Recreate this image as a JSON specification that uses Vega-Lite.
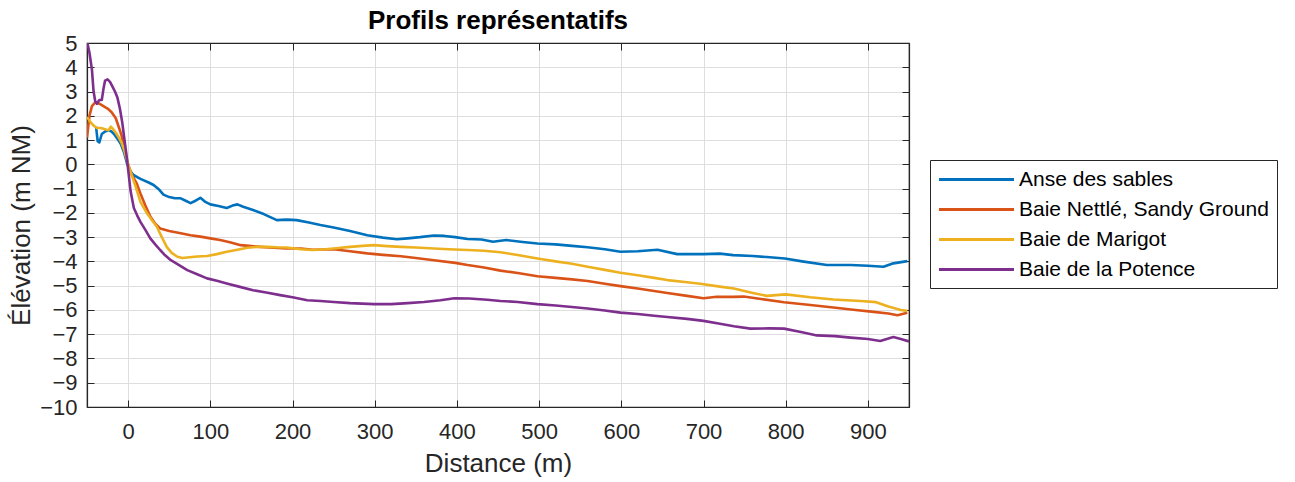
{
  "$schema": "https://vega.github.io/schema/vega-lite/v6.json",
  "width": 822,
  "height": 364,
  "autosize": "none",
  "padding": {"left": 87, "top": 43, "right": 386, "bottom": 75},
  "background": "white",
  "config": {
    "font": "Liberation Sans",
    "view": {"stroke": "#262626", "strokeWidth": 1.2},
    "axis": {
      "labelFont": "Liberation Sans",
      "titleFont": "Liberation Sans",
      "labelColor": "#262626",
      "titleColor": "#262626",
      "domainColor": "#262626",
      "tickColor": "#262626",
      "gridColor": "#dedede",
      "gridWidth": 1,
      "labelFontSize": 22,
      "titleFontSize": 26,
      "titleFontWeight": "normal"
    }
  },
  "title": {"text": "Profils représentatifs", "fontSize": 26, "fontWeight": "bold", "color": "#000000", "anchor": "middle", "offset": -2, "font": "Liberation Sans"},
  "datasets": {
    "profils": [
      {"serie": "Anse des sables", "d": -39, "z": 1.55},
      {"serie": "Anse des sables", "d": -37, "z": 0.95},
      {"serie": "Anse des sables", "d": -35, "z": 0.9},
      {"serie": "Anse des sables", "d": -32, "z": 1.25},
      {"serie": "Anse des sables", "d": -28, "z": 1.35},
      {"serie": "Anse des sables", "d": -24, "z": 1.4},
      {"serie": "Anse des sables", "d": -20, "z": 1.35},
      {"serie": "Anse des sables", "d": -16, "z": 1.2},
      {"serie": "Anse des sables", "d": -12, "z": 1.0},
      {"serie": "Anse des sables", "d": -9, "z": 0.85},
      {"serie": "Anse des sables", "d": -5, "z": 0.5},
      {"serie": "Anse des sables", "d": -1, "z": 0.0},
      {"serie": "Anse des sables", "d": 3, "z": -0.3},
      {"serie": "Anse des sables", "d": 7, "z": -0.45},
      {"serie": "Anse des sables", "d": 15, "z": -0.6},
      {"serie": "Anse des sables", "d": 25, "z": -0.75},
      {"serie": "Anse des sables", "d": 31, "z": -0.85},
      {"serie": "Anse des sables", "d": 38, "z": -1.05},
      {"serie": "Anse des sables", "d": 43, "z": -1.25},
      {"serie": "Anse des sables", "d": 50, "z": -1.35},
      {"serie": "Anse des sables", "d": 57, "z": -1.4},
      {"serie": "Anse des sables", "d": 64, "z": -1.4},
      {"serie": "Anse des sables", "d": 70, "z": -1.5},
      {"serie": "Anse des sables", "d": 76, "z": -1.6},
      {"serie": "Anse des sables", "d": 82, "z": -1.5},
      {"serie": "Anse des sables", "d": 88, "z": -1.38},
      {"serie": "Anse des sables", "d": 94, "z": -1.55},
      {"serie": "Anse des sables", "d": 100, "z": -1.65},
      {"serie": "Anse des sables", "d": 110, "z": -1.72},
      {"serie": "Anse des sables", "d": 120, "z": -1.8},
      {"serie": "Anse des sables", "d": 127, "z": -1.7},
      {"serie": "Anse des sables", "d": 133, "z": -1.65},
      {"serie": "Anse des sables", "d": 140, "z": -1.75},
      {"serie": "Anse des sables", "d": 152, "z": -1.88},
      {"serie": "Anse des sables", "d": 165, "z": -2.05},
      {"serie": "Anse des sables", "d": 181, "z": -2.3},
      {"serie": "Anse des sables", "d": 193, "z": -2.28},
      {"serie": "Anse des sables", "d": 205, "z": -2.3},
      {"serie": "Anse des sables", "d": 220, "z": -2.4},
      {"serie": "Anse des sables", "d": 234, "z": -2.5},
      {"serie": "Anse des sables", "d": 250, "z": -2.6},
      {"serie": "Anse des sables", "d": 270, "z": -2.75},
      {"serie": "Anse des sables", "d": 291, "z": -2.92},
      {"serie": "Anse des sables", "d": 310, "z": -3.02},
      {"serie": "Anse des sables", "d": 327, "z": -3.09},
      {"serie": "Anse des sables", "d": 340, "z": -3.05},
      {"serie": "Anse des sables", "d": 355, "z": -3.0},
      {"serie": "Anse des sables", "d": 372, "z": -2.93},
      {"serie": "Anse des sables", "d": 385, "z": -2.95},
      {"serie": "Anse des sables", "d": 398, "z": -3.0},
      {"serie": "Anse des sables", "d": 413, "z": -3.08},
      {"serie": "Anse des sables", "d": 430, "z": -3.1},
      {"serie": "Anse des sables", "d": 444, "z": -3.19},
      {"serie": "Anse des sables", "d": 460, "z": -3.12},
      {"serie": "Anse des sables", "d": 480, "z": -3.2},
      {"serie": "Anse des sables", "d": 498, "z": -3.26},
      {"serie": "Anse des sables", "d": 520, "z": -3.3},
      {"serie": "Anse des sables", "d": 540, "z": -3.36},
      {"serie": "Anse des sables", "d": 559, "z": -3.42},
      {"serie": "Anse des sables", "d": 580, "z": -3.5},
      {"serie": "Anse des sables", "d": 599, "z": -3.6},
      {"serie": "Anse des sables", "d": 620, "z": -3.58},
      {"serie": "Anse des sables", "d": 644, "z": -3.52},
      {"serie": "Anse des sables", "d": 668, "z": -3.7},
      {"serie": "Anse des sables", "d": 700, "z": -3.7},
      {"serie": "Anse des sables", "d": 720, "z": -3.68},
      {"serie": "Anse des sables", "d": 736, "z": -3.74},
      {"serie": "Anse des sables", "d": 760, "z": -3.78},
      {"serie": "Anse des sables", "d": 777, "z": -3.82},
      {"serie": "Anse des sables", "d": 799, "z": -3.88},
      {"serie": "Anse des sables", "d": 820, "z": -4.0},
      {"serie": "Anse des sables", "d": 850, "z": -4.15},
      {"serie": "Anse des sables", "d": 879, "z": -4.15},
      {"serie": "Anse des sables", "d": 900, "z": -4.18},
      {"serie": "Anse des sables", "d": 919, "z": -4.22},
      {"serie": "Anse des sables", "d": 931, "z": -4.08},
      {"serie": "Anse des sables", "d": 948, "z": -3.99},

      {"serie": "Baie Nettlé, Sandy Ground", "d": -50, "z": 1.1},
      {"serie": "Baie Nettlé, Sandy Ground", "d": -47, "z": 2.0},
      {"serie": "Baie Nettlé, Sandy Ground", "d": -44, "z": 2.4},
      {"serie": "Baie Nettlé, Sandy Ground", "d": -40, "z": 2.55},
      {"serie": "Baie Nettlé, Sandy Ground", "d": -35, "z": 2.5},
      {"serie": "Baie Nettlé, Sandy Ground", "d": -30, "z": 2.4},
      {"serie": "Baie Nettlé, Sandy Ground", "d": -25, "z": 2.3},
      {"serie": "Baie Nettlé, Sandy Ground", "d": -20, "z": 2.15},
      {"serie": "Baie Nettlé, Sandy Ground", "d": -15, "z": 1.9},
      {"serie": "Baie Nettlé, Sandy Ground", "d": -12, "z": 1.6},
      {"serie": "Baie Nettlé, Sandy Ground", "d": -8, "z": 1.2},
      {"serie": "Baie Nettlé, Sandy Ground", "d": -4.5, "z": 0.6},
      {"serie": "Baie Nettlé, Sandy Ground", "d": 0, "z": 0.0},
      {"serie": "Baie Nettlé, Sandy Ground", "d": 4, "z": -0.4},
      {"serie": "Baie Nettlé, Sandy Ground", "d": 10, "z": -0.75},
      {"serie": "Baie Nettlé, Sandy Ground", "d": 15, "z": -1.2},
      {"serie": "Baie Nettlé, Sandy Ground", "d": 21, "z": -1.7},
      {"serie": "Baie Nettlé, Sandy Ground", "d": 27, "z": -2.15},
      {"serie": "Baie Nettlé, Sandy Ground", "d": 33, "z": -2.45},
      {"serie": "Baie Nettlé, Sandy Ground", "d": 39, "z": -2.64},
      {"serie": "Baie Nettlé, Sandy Ground", "d": 50, "z": -2.75},
      {"serie": "Baie Nettlé, Sandy Ground", "d": 64, "z": -2.84},
      {"serie": "Baie Nettlé, Sandy Ground", "d": 76, "z": -2.92},
      {"serie": "Baie Nettlé, Sandy Ground", "d": 88, "z": -2.98},
      {"serie": "Baie Nettlé, Sandy Ground", "d": 100, "z": -3.05},
      {"serie": "Baie Nettlé, Sandy Ground", "d": 112, "z": -3.12},
      {"serie": "Baie Nettlé, Sandy Ground", "d": 125, "z": -3.22},
      {"serie": "Baie Nettlé, Sandy Ground", "d": 137, "z": -3.33},
      {"serie": "Baie Nettlé, Sandy Ground", "d": 150, "z": -3.37},
      {"serie": "Baie Nettlé, Sandy Ground", "d": 161, "z": -3.4},
      {"serie": "Baie Nettlé, Sandy Ground", "d": 177, "z": -3.44},
      {"serie": "Baie Nettlé, Sandy Ground", "d": 193, "z": -3.47},
      {"serie": "Baie Nettlé, Sandy Ground", "d": 210, "z": -3.47},
      {"serie": "Baie Nettlé, Sandy Ground", "d": 225, "z": -3.52},
      {"serie": "Baie Nettlé, Sandy Ground", "d": 250, "z": -3.5},
      {"serie": "Baie Nettlé, Sandy Ground", "d": 270, "z": -3.58},
      {"serie": "Baie Nettlé, Sandy Ground", "d": 291, "z": -3.67},
      {"serie": "Baie Nettlé, Sandy Ground", "d": 310, "z": -3.73},
      {"serie": "Baie Nettlé, Sandy Ground", "d": 332, "z": -3.79},
      {"serie": "Baie Nettlé, Sandy Ground", "d": 350, "z": -3.86},
      {"serie": "Baie Nettlé, Sandy Ground", "d": 372, "z": -3.95},
      {"serie": "Baie Nettlé, Sandy Ground", "d": 398, "z": -4.06},
      {"serie": "Baie Nettlé, Sandy Ground", "d": 413, "z": -4.15},
      {"serie": "Baie Nettlé, Sandy Ground", "d": 433, "z": -4.25},
      {"serie": "Baie Nettlé, Sandy Ground", "d": 453, "z": -4.38},
      {"serie": "Baie Nettlé, Sandy Ground", "d": 474, "z": -4.48},
      {"serie": "Baie Nettlé, Sandy Ground", "d": 498, "z": -4.61},
      {"serie": "Baie Nettlé, Sandy Ground", "d": 520, "z": -4.68},
      {"serie": "Baie Nettlé, Sandy Ground", "d": 540, "z": -4.74},
      {"serie": "Baie Nettlé, Sandy Ground", "d": 559, "z": -4.81},
      {"serie": "Baie Nettlé, Sandy Ground", "d": 580, "z": -4.92},
      {"serie": "Baie Nettlé, Sandy Ground", "d": 599, "z": -5.02},
      {"serie": "Baie Nettlé, Sandy Ground", "d": 620, "z": -5.12},
      {"serie": "Baie Nettlé, Sandy Ground", "d": 640, "z": -5.22},
      {"serie": "Baie Nettlé, Sandy Ground", "d": 656, "z": -5.3},
      {"serie": "Baie Nettlé, Sandy Ground", "d": 680, "z": -5.42},
      {"serie": "Baie Nettlé, Sandy Ground", "d": 700, "z": -5.52},
      {"serie": "Baie Nettlé, Sandy Ground", "d": 716, "z": -5.46},
      {"serie": "Baie Nettlé, Sandy Ground", "d": 736, "z": -5.46},
      {"serie": "Baie Nettlé, Sandy Ground", "d": 749, "z": -5.45},
      {"serie": "Baie Nettlé, Sandy Ground", "d": 770, "z": -5.55},
      {"serie": "Baie Nettlé, Sandy Ground", "d": 798, "z": -5.68},
      {"serie": "Baie Nettlé, Sandy Ground", "d": 830, "z": -5.8},
      {"serie": "Baie Nettlé, Sandy Ground", "d": 858, "z": -5.9},
      {"serie": "Baie Nettlé, Sandy Ground", "d": 885, "z": -6.0},
      {"serie": "Baie Nettlé, Sandy Ground", "d": 907, "z": -6.08},
      {"serie": "Baie Nettlé, Sandy Ground", "d": 925, "z": -6.15},
      {"serie": "Baie Nettlé, Sandy Ground", "d": 936, "z": -6.22},
      {"serie": "Baie Nettlé, Sandy Ground", "d": 948, "z": -6.12},

      {"serie": "Baie de Marigot", "d": -50, "z": 1.95},
      {"serie": "Baie de Marigot", "d": -46, "z": 1.75},
      {"serie": "Baie de Marigot", "d": -42, "z": 1.6},
      {"serie": "Baie de Marigot", "d": -38, "z": 1.5},
      {"serie": "Baie de Marigot", "d": -33, "z": 1.5},
      {"serie": "Baie de Marigot", "d": -28, "z": 1.45},
      {"serie": "Baie de Marigot", "d": -24, "z": 1.4},
      {"serie": "Baie de Marigot", "d": -21, "z": 1.55},
      {"serie": "Baie de Marigot", "d": -17, "z": 1.4},
      {"serie": "Baie de Marigot", "d": -13, "z": 1.2},
      {"serie": "Baie de Marigot", "d": -8, "z": 0.9},
      {"serie": "Baie de Marigot", "d": -4, "z": 0.5},
      {"serie": "Baie de Marigot", "d": 0, "z": 0.0},
      {"serie": "Baie de Marigot", "d": 3, "z": -0.31},
      {"serie": "Baie de Marigot", "d": 9, "z": -0.9},
      {"serie": "Baie de Marigot", "d": 15, "z": -1.55},
      {"serie": "Baie de Marigot", "d": 23, "z": -2.02},
      {"serie": "Baie de Marigot", "d": 29, "z": -2.3},
      {"serie": "Baie de Marigot", "d": 35, "z": -2.57},
      {"serie": "Baie de Marigot", "d": 41, "z": -3.0},
      {"serie": "Baie de Marigot", "d": 47, "z": -3.4},
      {"serie": "Baie de Marigot", "d": 53, "z": -3.65},
      {"serie": "Baie de Marigot", "d": 60, "z": -3.81},
      {"serie": "Baie de Marigot", "d": 66, "z": -3.86},
      {"serie": "Baie de Marigot", "d": 72, "z": -3.84},
      {"serie": "Baie de Marigot", "d": 84, "z": -3.8},
      {"serie": "Baie de Marigot", "d": 96, "z": -3.78},
      {"serie": "Baie de Marigot", "d": 108, "z": -3.7},
      {"serie": "Baie de Marigot", "d": 120, "z": -3.6},
      {"serie": "Baie de Marigot", "d": 133, "z": -3.52},
      {"serie": "Baie de Marigot", "d": 145, "z": -3.44},
      {"serie": "Baie de Marigot", "d": 157, "z": -3.4},
      {"serie": "Baie de Marigot", "d": 169, "z": -3.4},
      {"serie": "Baie de Marigot", "d": 181, "z": -3.42},
      {"serie": "Baie de Marigot", "d": 193, "z": -3.43},
      {"serie": "Baie de Marigot", "d": 210, "z": -3.5},
      {"serie": "Baie de Marigot", "d": 225, "z": -3.53},
      {"serie": "Baie de Marigot", "d": 240, "z": -3.5},
      {"serie": "Baie de Marigot", "d": 250, "z": -3.47},
      {"serie": "Baie de Marigot", "d": 270, "z": -3.4},
      {"serie": "Baie de Marigot", "d": 285, "z": -3.36},
      {"serie": "Baie de Marigot", "d": 299, "z": -3.33},
      {"serie": "Baie de Marigot", "d": 315, "z": -3.37},
      {"serie": "Baie de Marigot", "d": 332, "z": -3.4},
      {"serie": "Baie de Marigot", "d": 350, "z": -3.43},
      {"serie": "Baie de Marigot", "d": 372, "z": -3.47},
      {"serie": "Baie de Marigot", "d": 390, "z": -3.5},
      {"serie": "Baie de Marigot", "d": 413, "z": -3.53},
      {"serie": "Baie de Marigot", "d": 433, "z": -3.56},
      {"serie": "Baie de Marigot", "d": 453, "z": -3.62},
      {"serie": "Baie de Marigot", "d": 474, "z": -3.74},
      {"serie": "Baie de Marigot", "d": 498, "z": -3.88},
      {"serie": "Baie de Marigot", "d": 520, "z": -4.0},
      {"serie": "Baie de Marigot", "d": 540, "z": -4.1},
      {"serie": "Baie de Marigot", "d": 559, "z": -4.22},
      {"serie": "Baie de Marigot", "d": 580, "z": -4.35},
      {"serie": "Baie de Marigot", "d": 599, "z": -4.47},
      {"serie": "Baie de Marigot", "d": 620, "z": -4.57},
      {"serie": "Baie de Marigot", "d": 640, "z": -4.68},
      {"serie": "Baie de Marigot", "d": 656, "z": -4.77},
      {"serie": "Baie de Marigot", "d": 680, "z": -4.86},
      {"serie": "Baie de Marigot", "d": 696, "z": -4.92},
      {"serie": "Baie de Marigot", "d": 720, "z": -5.04},
      {"serie": "Baie de Marigot", "d": 737, "z": -5.12},
      {"serie": "Baie de Marigot", "d": 760, "z": -5.3},
      {"serie": "Baie de Marigot", "d": 777, "z": -5.42},
      {"serie": "Baie de Marigot", "d": 800, "z": -5.36},
      {"serie": "Baie de Marigot", "d": 830, "z": -5.48},
      {"serie": "Baie de Marigot", "d": 858, "z": -5.57},
      {"serie": "Baie de Marigot", "d": 891, "z": -5.63},
      {"serie": "Baie de Marigot", "d": 910, "z": -5.68},
      {"serie": "Baie de Marigot", "d": 924, "z": -5.85},
      {"serie": "Baie de Marigot", "d": 940, "z": -6.0},
      {"serie": "Baie de Marigot", "d": 948, "z": -6.04},

      {"serie": "Baie de la Potence", "d": -49.5, "z": 5.0},
      {"serie": "Baie de la Potence", "d": -47, "z": 4.6},
      {"serie": "Baie de la Potence", "d": -44, "z": 3.9},
      {"serie": "Baie de la Potence", "d": -42, "z": 3.0},
      {"serie": "Baie de la Potence", "d": -40, "z": 2.6},
      {"serie": "Baie de la Potence", "d": -38, "z": 2.5},
      {"serie": "Baie de la Potence", "d": -35, "z": 2.65},
      {"serie": "Baie de la Potence", "d": -32, "z": 2.65},
      {"serie": "Baie de la Potence", "d": -30, "z": 3.1},
      {"serie": "Baie de la Potence", "d": -28, "z": 3.45},
      {"serie": "Baie de la Potence", "d": -25, "z": 3.5},
      {"serie": "Baie de la Potence", "d": -22, "z": 3.4},
      {"serie": "Baie de la Potence", "d": -19, "z": 3.2},
      {"serie": "Baie de la Potence", "d": -16, "z": 3.0},
      {"serie": "Baie de la Potence", "d": -13, "z": 2.75},
      {"serie": "Baie de la Potence", "d": -10, "z": 2.3},
      {"serie": "Baie de la Potence", "d": -7, "z": 1.7},
      {"serie": "Baie de la Potence", "d": -4, "z": 0.9},
      {"serie": "Baie de la Potence", "d": -2, "z": 0.4},
      {"serie": "Baie de la Potence", "d": 0, "z": -0.2},
      {"serie": "Baie de la Potence", "d": 3, "z": -1.1},
      {"serie": "Baie de la Potence", "d": 7, "z": -1.8},
      {"serie": "Baie de la Potence", "d": 11, "z": -2.1},
      {"serie": "Baie de la Potence", "d": 15, "z": -2.37},
      {"serie": "Baie de la Potence", "d": 21, "z": -2.7},
      {"serie": "Baie de la Potence", "d": 27, "z": -3.05},
      {"serie": "Baie de la Potence", "d": 33, "z": -3.3},
      {"serie": "Baie de la Potence", "d": 39, "z": -3.53},
      {"serie": "Baie de la Potence", "d": 45, "z": -3.75},
      {"serie": "Baie de la Potence", "d": 52, "z": -3.95},
      {"serie": "Baie de la Potence", "d": 62, "z": -4.15},
      {"serie": "Baie de la Potence", "d": 72, "z": -4.36},
      {"serie": "Baie de la Potence", "d": 84, "z": -4.53},
      {"serie": "Baie de la Potence", "d": 96, "z": -4.7},
      {"serie": "Baie de la Potence", "d": 108, "z": -4.8},
      {"serie": "Baie de la Potence", "d": 120, "z": -4.91},
      {"serie": "Baie de la Potence", "d": 136, "z": -5.05},
      {"serie": "Baie de la Potence", "d": 152, "z": -5.19},
      {"serie": "Baie de la Potence", "d": 168, "z": -5.28},
      {"serie": "Baie de la Potence", "d": 185, "z": -5.39},
      {"serie": "Baie de la Potence", "d": 200, "z": -5.48},
      {"serie": "Baie de la Potence", "d": 218, "z": -5.6},
      {"serie": "Baie de la Potence", "d": 234, "z": -5.63},
      {"serie": "Baie de la Potence", "d": 250, "z": -5.67},
      {"serie": "Baie de la Potence", "d": 270, "z": -5.72},
      {"serie": "Baie de la Potence", "d": 299, "z": -5.76},
      {"serie": "Baie de la Potence", "d": 320, "z": -5.76},
      {"serie": "Baie de la Potence", "d": 340, "z": -5.72},
      {"serie": "Baie de la Potence", "d": 360, "z": -5.67},
      {"serie": "Baie de la Potence", "d": 380, "z": -5.6},
      {"serie": "Baie de la Potence", "d": 397, "z": -5.52},
      {"serie": "Baie de la Potence", "d": 415, "z": -5.53},
      {"serie": "Baie de la Potence", "d": 437, "z": -5.58},
      {"serie": "Baie de la Potence", "d": 453, "z": -5.63},
      {"serie": "Baie de la Potence", "d": 474, "z": -5.67},
      {"serie": "Baie de la Potence", "d": 498, "z": -5.76},
      {"serie": "Baie de la Potence", "d": 520, "z": -5.82},
      {"serie": "Baie de la Potence", "d": 540, "z": -5.88},
      {"serie": "Baie de la Potence", "d": 559, "z": -5.94},
      {"serie": "Baie de la Potence", "d": 580, "z": -6.02},
      {"serie": "Baie de la Potence", "d": 599, "z": -6.11},
      {"serie": "Baie de la Potence", "d": 620, "z": -6.17},
      {"serie": "Baie de la Potence", "d": 640, "z": -6.24},
      {"serie": "Baie de la Potence", "d": 656, "z": -6.29},
      {"serie": "Baie de la Potence", "d": 680, "z": -6.37},
      {"serie": "Baie de la Potence", "d": 700, "z": -6.45},
      {"serie": "Baie de la Potence", "d": 720, "z": -6.57},
      {"serie": "Baie de la Potence", "d": 737, "z": -6.67},
      {"serie": "Baie de la Potence", "d": 757, "z": -6.77},
      {"serie": "Baie de la Potence", "d": 780, "z": -6.76},
      {"serie": "Baie de la Potence", "d": 798, "z": -6.77},
      {"serie": "Baie de la Potence", "d": 820, "z": -6.92},
      {"serie": "Baie de la Potence", "d": 838, "z": -7.05},
      {"serie": "Baie de la Potence", "d": 860, "z": -7.08},
      {"serie": "Baie de la Potence", "d": 879, "z": -7.14},
      {"serie": "Baie de la Potence", "d": 900, "z": -7.2},
      {"serie": "Baie de la Potence", "d": 915, "z": -7.28},
      {"serie": "Baie de la Potence", "d": 931, "z": -7.12},
      {"serie": "Baie de la Potence", "d": 940, "z": -7.2},
      {"serie": "Baie de la Potence", "d": 950, "z": -7.3}
    ]
  },
  "data": {"name": "profils"},
  "layer": [
    {
      "mark": {"type": "line", "strokeWidth": 2.6, "clip": true, "strokeJoin": "round"},
      "encoding": {
        "x": {
          "field": "d", "type": "quantitative",
          "scale": {"domain": [-50, 950], "nice": false, "zero": false},
          "axis": {"orient": "bottom", "values": [0, 100, 200, 300, 400, 500, 600, 700, 800, 900], "title": "Distance (m)", "tickSize": -7, "labelPadding": 21, "titlePadding": 8, "grid": true, "domainWidth": 1.2}
        },
        "y": {
          "field": "z", "type": "quantitative",
          "scale": {"domain": [-10, 5], "nice": false, "zero": false},
          "axis": {"orient": "left", "values": [-10, -9, -8, -7, -6, -5, -4, -3, -2, -1, 0, 1, 2, 3, 4, 5], "title": "Élévation (m NM)", "tickSize": -7, "labelPadding": 17, "titlePadding": 5, "grid": true, "domainWidth": 1.2}
        },
        "color": {
          "field": "serie", "type": "nominal",
          "scale": {
            "domain": ["Anse des sables", "Baie Nettlé, Sandy Ground", "Baie de Marigot", "Baie de la Potence"],
            "range": ["#0072BD", "#D95319", "#EDB120", "#7E2F8E"]
          },
          "legend": {
            "title": null,
            "orient": "none",
            "legendX": 843,
            "legendY": 117,
            "direction": "vertical",
            "strokeColor": "#262626",
            "fillColor": "#ffffff",
            "padding": 8,
            "symbolType": "M-3.75,0H3.75",
            "symbolSize": 400,
            "symbolStrokeWidth": 3,
            "symbolOffset": 27,
            "labelOffset": 31,
            "labelFontSize": 21,
            "labelFont": "Liberation Sans",
            "labelColor": "#000000",
            "rowPadding": 8,
            "labelLimit": 400
          }
        }
      }
    },
    {
      "mark": {"type": "line", "strokeOpacity": 0},
      "encoding": {
        "x": {
          "field": "d", "type": "quantitative",
          "scale": {"domain": [-50, 950], "nice": false, "zero": false},
          "axis": {"orient": "top", "values": [0, 100, 200, 300, 400, 500, 600, 700, 800, 900], "title": null, "labels": false, "tickSize": -7, "grid": false, "domainWidth": 1.2}
        },
        "y": {
          "field": "z", "type": "quantitative",
          "scale": {"domain": [-10, 5], "nice": false, "zero": false},
          "axis": {"orient": "right", "values": [-10, -9, -8, -7, -6, -5, -4, -3, -2, -1, 0, 1, 2, 3, 4, 5], "title": null, "labels": false, "tickSize": -7, "grid": false, "domainWidth": 1.2}
        }
      }
    }
  ],
  "resolve": {"axis": {"x": "independent", "y": "independent"}}
}
